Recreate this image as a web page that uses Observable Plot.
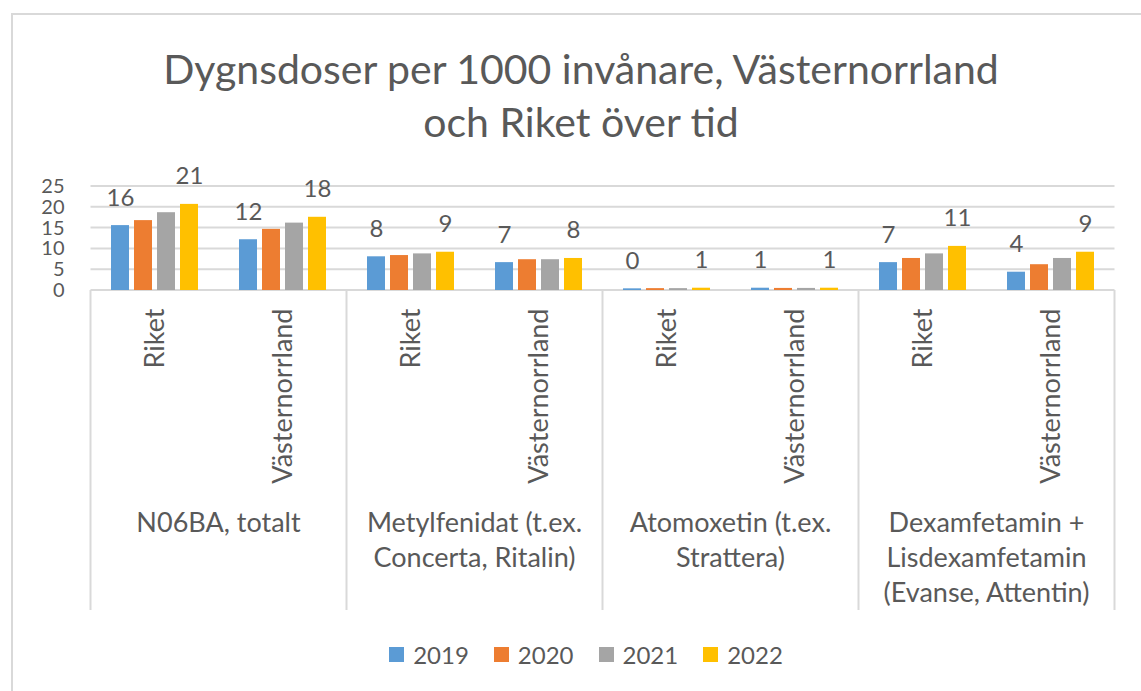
<!DOCTYPE html>
<html><head><meta charset="utf-8">
<script src="https://cdn.jsdelivr.net/npm/d3@7"></script>
<script src="https://cdn.jsdelivr.net/npm/@observablehq/plot@0.6"></script>
<style>
body{margin:0;background:#fff;font-family:Lato,"Open Sans",sans-serif;color:#595959;overflow:hidden;width:1141px;height:691px;position:relative;}
#frame{position:absolute;left:11px;top:13px;width:1300px;height:800px;border:2px solid #d9d9d9;box-sizing:border-box;}
#title{position:absolute;left:0;top:42px;width:1162px;text-align:center;font-size:41px;line-height:53px;}
#chart{position:absolute;left:0;top:160px;}
#legend{position:absolute;left:0;top:638px;width:1172px;display:flex;justify-content:center;}
#legend .lg-swatches{font-family:Lato,sans-serif;font-size:24px;color:#595959;}
#legend .lg-swatch{margin-right:25px !important;}
#legend .lg-swatch:last-child{margin-right:0 !important;}
#legend .lg-swatch > svg{margin-right:9px !important;}
</style></head><body>
<div id="frame"></div>
<div id="title">Dygnsdoser per 1000 invånare, Västernorrland<br>och Riket över tid</div>
<div id="chart"></div>
<div id="legend"></div>
<script>
const groups = ["N06BA, totalt", "Metylfenidat (t.ex.\nConcerta, Ritalin)", "Atomoxetin (t.ex.\nStrattera)", "Dexamfetamin +\nLisdexamfetamin\n(Evanse, Attentin)"];
const regions = ["Riket", "Västernorrland"];
const years = ["2019", "2020", "2021", "2022"];
const colors = ["#5B9BD5", "#ED7D31", "#A5A5A5", "#FFC000"];
const v2019 = [15.6, 12.2, 8.1, 6.7, 0.4, 0.55, 6.7, 4.4];
const v2020 = [16.8, 14.7, 8.4, 7.4, 0.45, 0.5, 7.7, 6.2];
const v2021 = [18.7, 16.2, 8.8, 7.4, 0.45, 0.5, 8.8, 7.7];
const v2022 = [20.7, 17.6, 9.2, 7.7, 0.55, 0.55, 10.6, 9.2];
const yTicks = [0, 5, 10, 15, 20, 25];
const labelYears = ["2019", "2022"];

const categories = groups.flatMap(g => regions.map(r => g + "|" + r));
const series = {"2019": v2019, "2020": v2020, "2021": v2021, "2022": v2022};
const data = years.flatMap(y => categories.map((c, i) => ({cat: c, year: y, value: series[y][i]})));

const chart = Plot.plot({
  width: 1141, height: 460,
  marginTop: 26, marginBottom: 330, marginLeft: 89, marginRight: 24,
  style: {fontFamily: "Lato, sans-serif", fontSize: "21px", color: "#595959", background: "transparent", overflow: "visible"},
  fx: {domain: categories, paddingInner: 0.27, paddingOuter: 0.135, label: null},
  x: {domain: years, paddingInner: 0.234, paddingOuter: 0.08, axis: null},
  y: {domain: [0, 25], label: null},
  color: {domain: years, range: colors},
  marks: [
    Plot.axisY({ticks: yTicks, tickSize: 0, tickPadding: 44, label: null, fontSize: 20}),
    Plot.barY(data, {fx: "cat", x: "year", y: "value", fill: "year"}),
    Plot.text(data.filter(d => labelYears.includes(d.year)), {fx: "cat", x: "year", y: "value", text: d => String(Math.round(d.value)), lineAnchor: "bottom", dy: -20, fontSize: 24}),
    Plot.axisFx({anchor: "bottom", tickRotate: -90, tickSize: 0, tickPadding: 18, label: null, fontSize: 27, tickFormat: d => d.split("|")[1]})
  ]
});
document.getElementById("chart").appendChild(chart);

// gridlines, group separators and group labels, positioned with Plot's scales
const fx = chart.scale("fx");
const ys = chart.scale("y");
const half = (fx.step - fx.bandwidth) / 2;
const y0 = ys.apply(0);
const svg = d3.select(chart);
const bounds = groups.map(g => fx.apply(g + "|Riket") - half);
bounds.push(fx.apply(categories[categories.length - 1]) + fx.bandwidth + half);
svg.insert("g", "g").selectAll("line").data(yTicks).join("line")
  .attr("x1", bounds[0]).attr("x2", bounds[bounds.length - 1])
  .attr("y1", d => ys.apply(d)).attr("y2", d => ys.apply(d))
  .attr("stroke", "#d9d9d9").attr("stroke-width", 2);
svg.append("g").selectAll("line").data(bounds).join("line")
  .attr("x1", d => d).attr("x2", d => d).attr("y1", y0).attr("y2", y0 + 320)
  .attr("stroke", "#d9d9d9").attr("stroke-width", 2);
const gl = svg.append("g").attr("font-size", 27).attr("fill", "#595959").attr("text-anchor", "middle");
groups.forEach((g, i) => {
  const cx = (bounds[i] + bounds[i + 1]) / 2;
  const t = gl.append("text");
  g.split("\n").forEach((line, j) => {
    t.append("tspan").attr("x", cx).attr("y", y0 + 233 + j * 35).attr("dy", "0.35em").text(line);
  });
});

const legend = Plot.legend({color: {type: "ordinal", domain: years, range: colors}, swatchSize: 15, className: "lg"});
document.getElementById("legend").appendChild(legend);
</script>
</body></html>
